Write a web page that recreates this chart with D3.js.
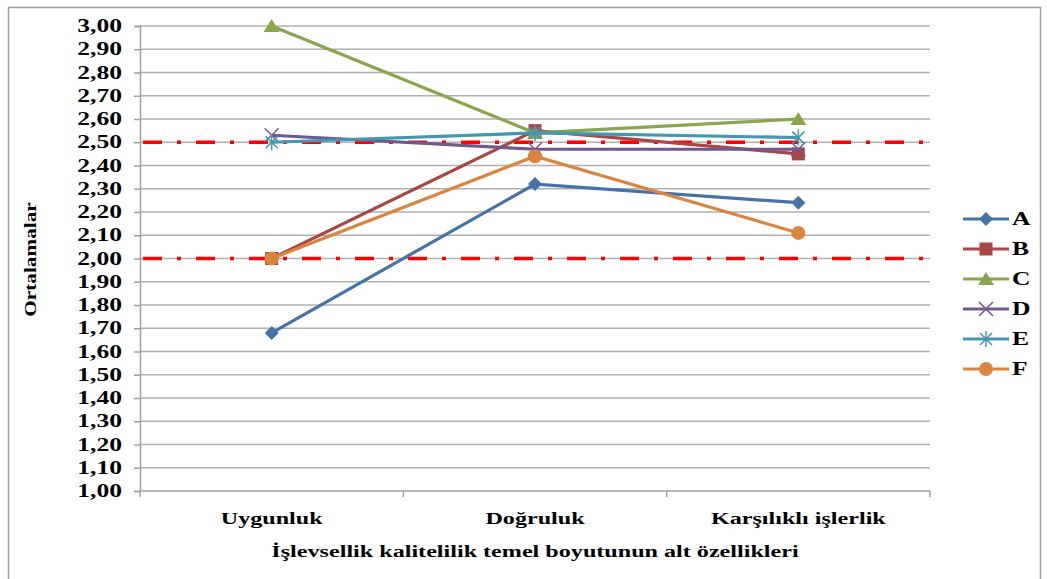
<!DOCTYPE html>
<html lang="tr">
<head>
<meta charset="UTF-8">
<title>Ortalamalar</title>
<style>
  body { margin: 0; background: #fff; }
  svg { display: block; }
  text { font-family: "Liberation Serif", "Times New Roman", serif; font-weight: bold; fill: #000; }
</style>
</head>
<body>
<div id="chart"></div>
<script src="https://d3js.org/d3.v7.min.js"></script>
<script>
  // veriler
  const categories = ['Uygunluk', 'Doğruluk', 'Karşılıklı işlerlik']
  const seriesNames = ['A', 'B', 'C', 'D', 'E', 'F']
  const A = [1.68, 2.32, 2.24]
  const B = [2.00, 2.55, 2.45]
  const C = [3.00, 2.54, 2.60]
  const D = [2.53, 2.47, 2.47]
  const E = [2.50, 2.54, 2.52]
  const F = [2.00, 2.44, 2.11]
  const refLines = [2.50, 2.00]
  const yTicks = d3.range(1, 3.001, 0.1)

  const series = [A, B, C, D, E, F]
  const colors = ['#4572A7', '#AA4643', '#89A54E', '#71588F', '#4198AF', '#DB843D']
  const symbols = ['diamond', 'square', 'triangle', 'cross', 'star', 'circle']

  const width = 1047
  const height = 579
  const plot = { left: 140, right: 930, top: 26, bottom: 491 }
  const stretch = 1.42   // metin yatayda geniş görünüyor

  const svg = d3.select('#chart').append('svg')
    .attr('width', width)
    .attr('height', height)

  // geniş metin yardımcısı
  function wideText(g, str, tx, ty, size, anchor, rot) {
    return g.append('text')
      .attr('transform', `translate(${tx},${ty})${rot ? ` rotate(${rot})` : ''} scale(${stretch},1)`)
      .attr('text-anchor', anchor || 'start')
      .style('font-size', size + 'px')
      .text(str)
  }

  // dış çerçeve
  svg.append('rect')
    .attr('x', 8.5).attr('y', 7.5)
    .attr('width', 1032).attr('height', 580)
    .attr('fill', 'none').attr('stroke', '#a0a0a0').attr('stroke-width', 1.5)

  const x = d3.scaleBand().domain(categories).range([plot.left, plot.right])
  const y = d3.scaleLinear().domain([1, 3]).range([plot.bottom, plot.top])

  // yatay ızgara
  svg.append('g')
    .selectAll('line')
    .data(yTicks.slice(1))
    .enter()
    .append('line')
    .attr('x1', plot.left).attr('x2', plot.right)
    .attr('y1', d => y(d)).attr('y2', d => y(d))
    .attr('stroke', '#b0b0b0').attr('stroke-width', 1.5)

  // y ekseni
  const yAxis = svg.append('g')
    .attr('transform', `translate(${plot.left},0)`)
    .call(d3.axisLeft(y).tickValues(yTicks).tickSize(6).tickFormat(''))
  yAxis.select('.domain').attr('stroke', '#a0a0a0').attr('stroke-width', 1.5)
  yAxis.selectAll('line').attr('stroke', '#a0a0a0').attr('stroke-width', 1.5)
  const yLabels = svg.append('g')
  yTicks.forEach(t => {
    wideText(yLabels, d3.format('.2f')(t).replace('.', ','), 122, y(t) + 6, 18, 'end')
  })

  // x ekseni
  const xAxis = svg.append('g')
    .attr('transform', `translate(0,${plot.bottom})`)
  xAxis.append('line')
    .attr('x1', plot.left).attr('x2', plot.right)
    .attr('stroke', '#a0a0a0').attr('stroke-width', 1.5)
  xAxis.selectAll('line.tick')
    .data(categories.concat(['_end']))
    .enter()
    .append('line')
    .attr('class', 'tick')
    .attr('x1', (d, i) => i < categories.length ? x(d) : plot.right)
    .attr('x2', (d, i) => i < categories.length ? x(d) : plot.right)
    .attr('y1', 0).attr('y2', 6)
    .attr('stroke', '#a0a0a0').attr('stroke-width', 1.5)
  categories.forEach(c => {
    wideText(xAxis, c, x(c) + x.bandwidth() / 2, 33, 17, 'middle')
  })

  // eksen başlıkları
  wideText(svg, 'İşlevsellik kalitelilik temel boyutunun alt özellikleri', 535, 557, 17, 'middle')
  svg.append('text')
    .attr('transform', `translate(36, ${(plot.top + plot.bottom) / 2 + 1}) rotate(-90) scale(1.25,1)`)
    .attr('text-anchor', 'middle')
    .style('font-size', '17px')
    .text('Ortalamalar')

  // kırmızı referans çizgileri
  svg.append('g')
    .selectAll('line')
    .data(refLines)
    .enter()
    .append('line')
    .attr('x1', plot.left + 3).attr('x2', plot.right - 4)
    .attr('y1', d => y(d)).attr('y2', d => y(d))
    .attr('stroke', '#ff0000').attr('stroke-width', 3.5)
    .attr('stroke-dasharray', '19 15 4 15')

  const line = d3.line()
    .x((d, i) => x(categories[i]) + x.bandwidth() / 2)
    .y(d => y(d))

  function marker(g, type, color, cx, cy) {
    const m = g.append('g').attr('transform', `translate(${cx},${cy})`)
    if (type === 'diamond') {
      m.append('path').attr('d', 'M0,-7L7,0L0,7L-7,0Z').attr('fill', color)
    } else if (type === 'square') {
      m.append('rect').attr('x', -6.5).attr('y', -6.5).attr('width', 13).attr('height', 13).attr('fill', color)
    } else if (type === 'triangle') {
      m.append('path').attr('d', 'M0,-7L8,6L-8,6Z').attr('fill', color)
    } else if (type === 'circle') {
      m.append('circle').attr('r', 7).attr('fill', color)
    } else if (type === 'cross') {
      m.append('path').attr('d', 'M-7,-7L7,7M-7,7L7,-7').attr('stroke', color).attr('stroke-width', 1.5)
    } else if (type === 'star') {
      m.append('path').attr('d', 'M-6,-6L6,6M-6,6L6,-6M0,-8L0,8').attr('stroke', color).attr('stroke-width', 1.5)
    }
  }

  // seriler
  const gSeries = svg.append('g')
  series.forEach((vals, s) => {
    gSeries.append('path')
      .datum(vals)
      .attr('d', line)
      .attr('fill', 'none')
      .attr('stroke', colors[s])
      .attr('stroke-width', 3.2)
    vals.forEach((v, i) => {
      marker(gSeries, symbols[s], colors[s], x(categories[i]) + x.bandwidth() / 2, y(v))
    })
  })

  // lejant
  const legend = svg.append('g')
  seriesNames.forEach((name, s) => {
    const ly = 219 + s * 30
    legend.append('line')
      .attr('x1', 963).attr('x2', 1009)
      .attr('y1', ly).attr('y2', ly)
      .attr('stroke', colors[s]).attr('stroke-width', 3.2)
    marker(legend, symbols[s], colors[s], 986, ly)
    wideText(legend, name, 1012, ly + 6, 18, 'start')
  })
</script>
</body>
</html>
